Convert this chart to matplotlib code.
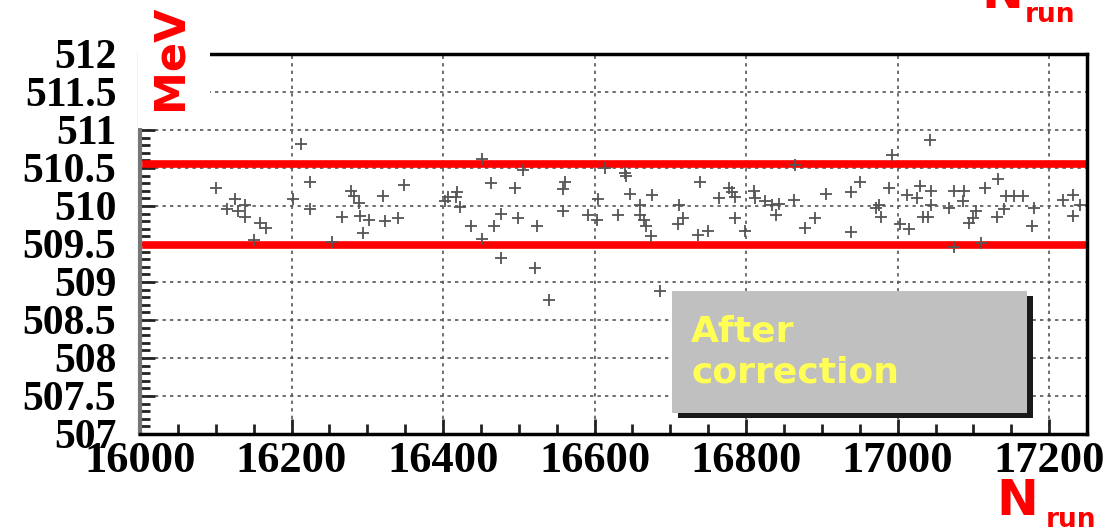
import matplotlib
matplotlib.use("Agg")
import matplotlib.pyplot as plt
from matplotlib.patches import Rectangle
from matplotlib.ticker import MultipleLocator

# run number and measured beam energy (MeV) after correction
runs = [16101, 16115, 16126, 16130, 16139, 16139, 16150, 16159, 16166, 16202,
        16212, 16224, 16224, 16253, 16267, 16278, 16282, 16289, 16290, 16294,
        16302, 16321, 16323, 16341, 16349, 16403, 16406, 16417, 16419, 16423,
        16437, 16452, 16452, 16463, 16467, 16477, 16477, 16495, 16499, 16505,
        16522, 16524, 16540, 16558, 16558, 16561, 16591, 16603, 16605, 16614,
        16631, 16640, 16642, 16647, 16660, 16660, 16665, 16668, 16675, 16676,
        16686, 16710, 16711, 16717, 16736, 16739, 16750, 16764, 16777, 16781,
        16786, 16786, 16799, 16810, 16812, 16825, 16834, 16839, 16843, 16863,
        16864, 16878, 16891, 16906, 16938, 16938, 16951, 16971, 16976, 16978,
        16988, 16993, 17003, 17013, 17015, 17026, 17029, 17033, 17040, 17043,
        17044, 17044, 17068, 17075, 17075, 17086, 17087, 17094, 17099, 17104,
        17110, 17115, 17131, 17132, 17141, 17143, 17154, 17166, 17178, 17180,
        17218, 17231, 17231, 17241]
energy = [510.23, 509.96, 510.09, 509.94, 510.01, 509.86, 509.55, 509.77, 509.71, 510.09,
          510.82, 510.31, 509.96, 509.53, 509.85, 510.20, 510.13, 510.04, 509.87, 509.64,
          509.82, 510.13, 509.80, 509.84, 510.27, 510.07, 510.12, 510.12, 510.19, 509.98,
          509.73, 510.62, 509.57, 510.30, 509.73, 509.89, 509.31, 510.23, 509.84, 510.47,
          509.19, 509.74, 508.76, 510.22, 509.94, 510.31, 509.88, 509.82, 510.09, 510.50,
          509.88, 510.44, 510.39, 510.16, 510.01, 509.88, 509.82, 509.73, 509.61, 510.14,
          508.88, 509.76, 510.01, 509.84, 509.62, 510.31, 509.67, 510.10, 510.23, 510.19,
          510.12, 509.84, 509.67, 510.20, 510.10, 510.06, 510.01, 509.88, 510.03, 510.08,
          510.54, 509.71, 509.84, 510.16, 509.66, 510.19, 510.32, 509.97, 510.01, 509.85,
          510.23, 510.67, 509.76, 510.14, 509.70, 510.10, 510.26, 509.85, 509.86, 510.87,
          510.20, 510.01, 509.97, 510.20, 509.46, 510.06, 510.20, 509.77, 509.84, 509.93,
          509.51, 510.23, 509.86, 510.35, 509.96, 510.13, 510.13, 510.13, 509.74, 509.97,
          510.08, 510.14, 509.87, 510.01]

# acceptance band
band = [509.48, 510.55]

x_ticks = [16000, 16200, 16400, 16600, 16800, 17000, 17200]
y_ticks = [507, 507.5, 508, 508.5, 509, 509.5, 510, 510.5, 511, 511.5, 512]
y_labels = ["507", "507.5", "508", "508.5", "509", "509.5", "510", "510.5", "511", "511.5", "512"]

fig = plt.figure(figsize=(11.18, 5.29), dpi=100)
ax = fig.add_axes([0.1252, 0.1796, 0.8471, 0.7184])

ax.set_xlim(16000, 17250)
ax.set_ylim(507, 512)

ax.grid(True, color="#555555", linestyle=(0, (2, 2.5)), linewidth=1.2)
ax.set_axisbelow(True)

for b in band:
    ax.axhline(b, xmin=0.006, xmax=0.996, color="red", linewidth=5.5, zorder=2)

ax.plot(runs, energy, linestyle="none", marker="+", markersize=9,
        markeredgewidth=1.3, color="#555555", zorder=3)

ax.set_xticks(x_ticks)
ax.set_xticklabels([str(t) for t in x_ticks])
ax.set_yticks(y_ticks)
ax.set_yticklabels(y_labels)
ax.xaxis.set_minor_locator(MultipleLocator(50))
ax.yaxis.set_minor_locator(MultipleLocator(0.1))

ax.tick_params(axis="both", which="both", direction="in", top=False, right=False)
ax.tick_params(axis="both", which="major", length=11, width=2, color="#222222")
ax.tick_params(axis="both", which="minor", length=7, width=2, color="#222222")
ax.tick_params(axis="y", which="major", pad=17)
ax.tick_params(axis="x", which="major", pad=5)
for lab in ax.get_yticklabels():
    lab.set_fontfamily("Liberation Serif")
    lab.set_fontweight("bold")
    lab.set_fontsize(30)
for lab in ax.get_xticklabels():
    lab.set_fontfamily("Liberation Serif")
    lab.set_fontweight("bold")
    lab.set_fontsize(32)

for side in ["top", "bottom", "right"]:
    ax.spines[side].set_color("black")
    ax.spines[side].set_linewidth(2.5)
ax.spines["left"].set_color("#777777")
ax.spines["left"].set_linewidth(3)

# label box with drop shadow
ax.add_patch(Rectangle((0.568, 0.042), 0.375, 0.321, transform=ax.transAxes,
                       facecolor="#1a1a1a", edgecolor="none", zorder=4))
ax.add_patch(Rectangle((0.562, 0.055), 0.375, 0.321, transform=ax.transAxes,
                       facecolor="#c0c0c0", edgecolor="none", zorder=5))
ax.text(0.582, 0.215, "After\ncorrection", transform=ax.transAxes,
        fontfamily="DejaVu Sans", fontweight="bold", fontsize=26,
        color="#ffff55", va="center", ha="left", linespacing=1.25, zorder=6)

# unit label over the top-left corner
fig.patches.append(Rectangle((0.1234, 0.758), 0.064, 0.25, transform=fig.transFigure,
                             facecolor="white", edgecolor="none", zorder=2))
fig.text(0.152, 0.892, "MeV", rotation=90, color="red", fontsize=31,
         fontweight="bold", ha="center", va="center", zorder=3)

# axis title, drawn twice as in the slide
for nx, ny, rx, ry in [(0.891, 0.026, 0.935, 0.004), (0.878, 0.985, 0.917, 0.958)]:
    fig.text(nx, ny, "N", color="red", fontsize=36, fontweight="bold",
             ha="left", va="baseline", zorder=3)
    fig.text(rx, ry, "run", color="red", fontsize=19, fontweight="bold",
             ha="left", va="baseline", zorder=3)

fig.savefig("out.png", dpi=100)
